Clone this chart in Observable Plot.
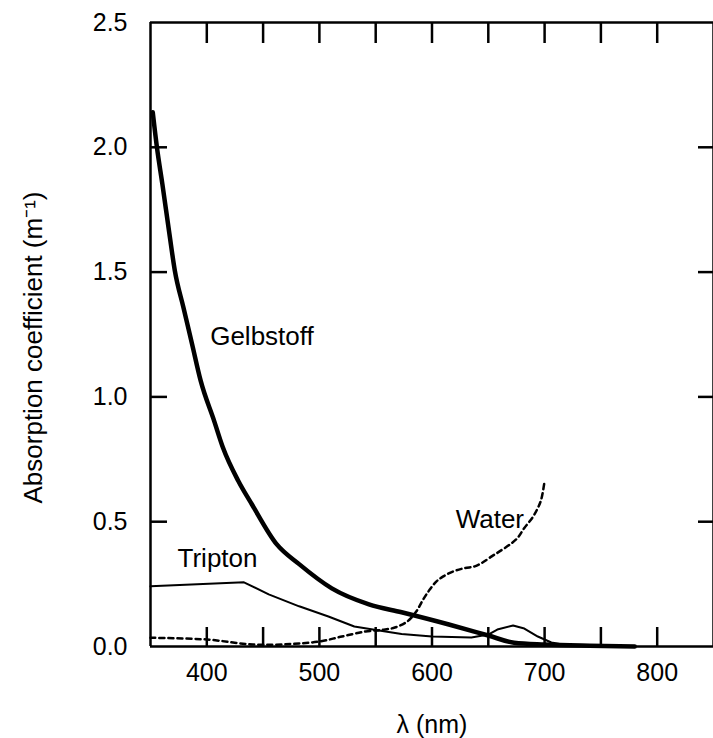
<!DOCTYPE html>
<html>
<head>
<meta charset="utf-8">
<script src="https://cdn.jsdelivr.net/npm/d3@7"></script>
<script src="https://cdn.jsdelivr.net/npm/@observablehq/plot@0.6"></script>
<style>
  html, body { margin: 0; padding: 0; background: #fff; }
</style>
</head>
<body>
<div id="chart"></div>
<script>
// Gelbstoff (thick solid)
const gelbX = [352, 355.7, 360.5, 366.8, 371.6, 379.2, 386.9, 394.6, 406.5, 414.4, 428, 440, 462, 482, 511, 544, 573, 615, 650, 673, 700, 740, 780];
const gelbY = [2.14, 2.0, 1.854, 1.653, 1.506, 1.359, 1.212, 1.064, 0.904, 0.796, 0.663, 0.57, 0.41, 0.33, 0.233, 0.169, 0.137, 0.088, 0.044, 0.015, 0.008, 0.003, 0];
// Tripton (thin solid)
const tripX = [350, 433, 455, 482, 508, 531, 553, 573, 600, 635, 650, 658, 672, 682, 694, 706, 721, 760];
const tripY = [0.241, 0.257, 0.209, 0.161, 0.12, 0.08, 0.064, 0.05, 0.04, 0.036, 0.048, 0.068, 0.084, 0.072, 0.04, 0.016, 0.004, 0];
// Water (dotted)
const waterX = [350, 400, 441, 475, 500, 520, 541, 556, 567, 578, 586, 592, 598, 604, 610, 619, 629, 638, 644, 653, 660, 669, 676, 682, 689, 694, 697, 700];
const waterY = [0.035, 0.028, 0.008, 0.01, 0.02, 0.04, 0.06, 0.067, 0.076, 0.10, 0.14, 0.187, 0.228, 0.261, 0.281, 0.301, 0.314, 0.321, 0.334, 0.361, 0.381, 0.408, 0.435, 0.475, 0.515, 0.555, 0.589, 0.663];

const xTicks = [400, 450, 500, 550, 600, 650, 700, 750, 800];
const xTickLabels = [400, 500, 600, 700, 800];
const yTicks = [0, 0.5, 1.0, 1.5, 2.0, 2.5];
const yInnerTicks = [0.5, 1.0, 1.5, 2.0];

const yTitle = "Absorption coefficient (m\u207B\u00B9)";
const xTitle = "\u03BB (nm)";

const labelNames = ["Gelbstoff", "Tripton", "Water"];
const labelX = [403, 374, 621];
const labelY = [1.24, 0.35, 0.51];

const gelb = gelbX.map((x, i) => ({x, y: gelbY[i]}));
const trip = tripX.map((x, i) => ({x, y: tripY[i]}));
const water = waterX.map((x, i) => ({x, y: waterY[i]}));
const labels = labelNames.map((t, i) => ({t, x: labelX[i], y: labelY[i]}));

const plot = Plot.plot({
  width: 713,
  height: 738,
  marginLeft: 150,
  marginRight: 0,
  marginTop: 22,
  marginBottom: 92,
  style: {fontFamily: "'Liberation Sans', Arial, Helvetica, sans-serif", fontSize: "25px", color: "#000", background: "#fff"},
  x: {domain: [350, 850]},
  y: {domain: [0, 2.5]},
  marks: [
    // left axis: labels + inward ticks + line
    Plot.axisY(yTicks, {anchor: "left", tickSize: 0, tickPadding: 23, tickFormat: d3.format(".1f"), fontSize: 25, label: null}),
    Plot.text([yTitle], {frameAnchor: "left", textAnchor: "middle", lineAnchor: "middle", rotate: -90, dx: -117, dy: 13, fontSize: 26, fill: "#000", text: d => d}),
    Plot.axisY(yInnerTicks, {anchor: "left", tickSize: -17, text: null, label: null, strokeWidth: 2.5}),
    Plot.ruleX([350], {strokeWidth: 2.5}),
    // right inward ticks
    Plot.axisY(yInnerTicks, {anchor: "right", tickSize: -16, text: null, label: null, strokeWidth: 2.5}),
    // bottom axis
    Plot.axisX(xTickLabels, {anchor: "bottom", tickSize: 0, tickPadding: 17, tickFormat: d => String(d), fontSize: 25,
      label: xTitle, labelAnchor: "center", labelOffset: 86, labelArrow: "none"}),
    Plot.axisX(xTicks, {anchor: "bottom", tickSize: -19, text: null, label: null, strokeWidth: 2.5}),
    Plot.ruleY([0], {strokeWidth: 2.5}),
    // top axis ticks
    Plot.axisX(xTicks, {anchor: "top", tickSize: -20, text: null, label: null, strokeWidth: 2.5}),
    Plot.ruleY([2.5], {strokeWidth: 2.5}),
    Plot.ruleX([850], {strokeWidth: 2.5}),
    // curves
    Plot.line(water, {x: "x", y: "y", stroke: "#000", strokeWidth: 2.5, strokeDasharray: "5,4", curve: "catmull-rom"}),
    Plot.line(trip, {x: "x", y: "y", stroke: "#000", strokeWidth: 2, curve: "linear"}),
    Plot.line(gelb, {x: "x", y: "y", stroke: "#000", strokeWidth: 4.5, curve: "monotone-x"}),
    // labels
    Plot.text(labels, {x: "x", y: "y", text: "t", textAnchor: "start", lineAnchor: "middle", fontSize: 26, fill: "#000"})
  ]
});
document.getElementById("chart").appendChild(plot);
</script>
</body>
</html>
